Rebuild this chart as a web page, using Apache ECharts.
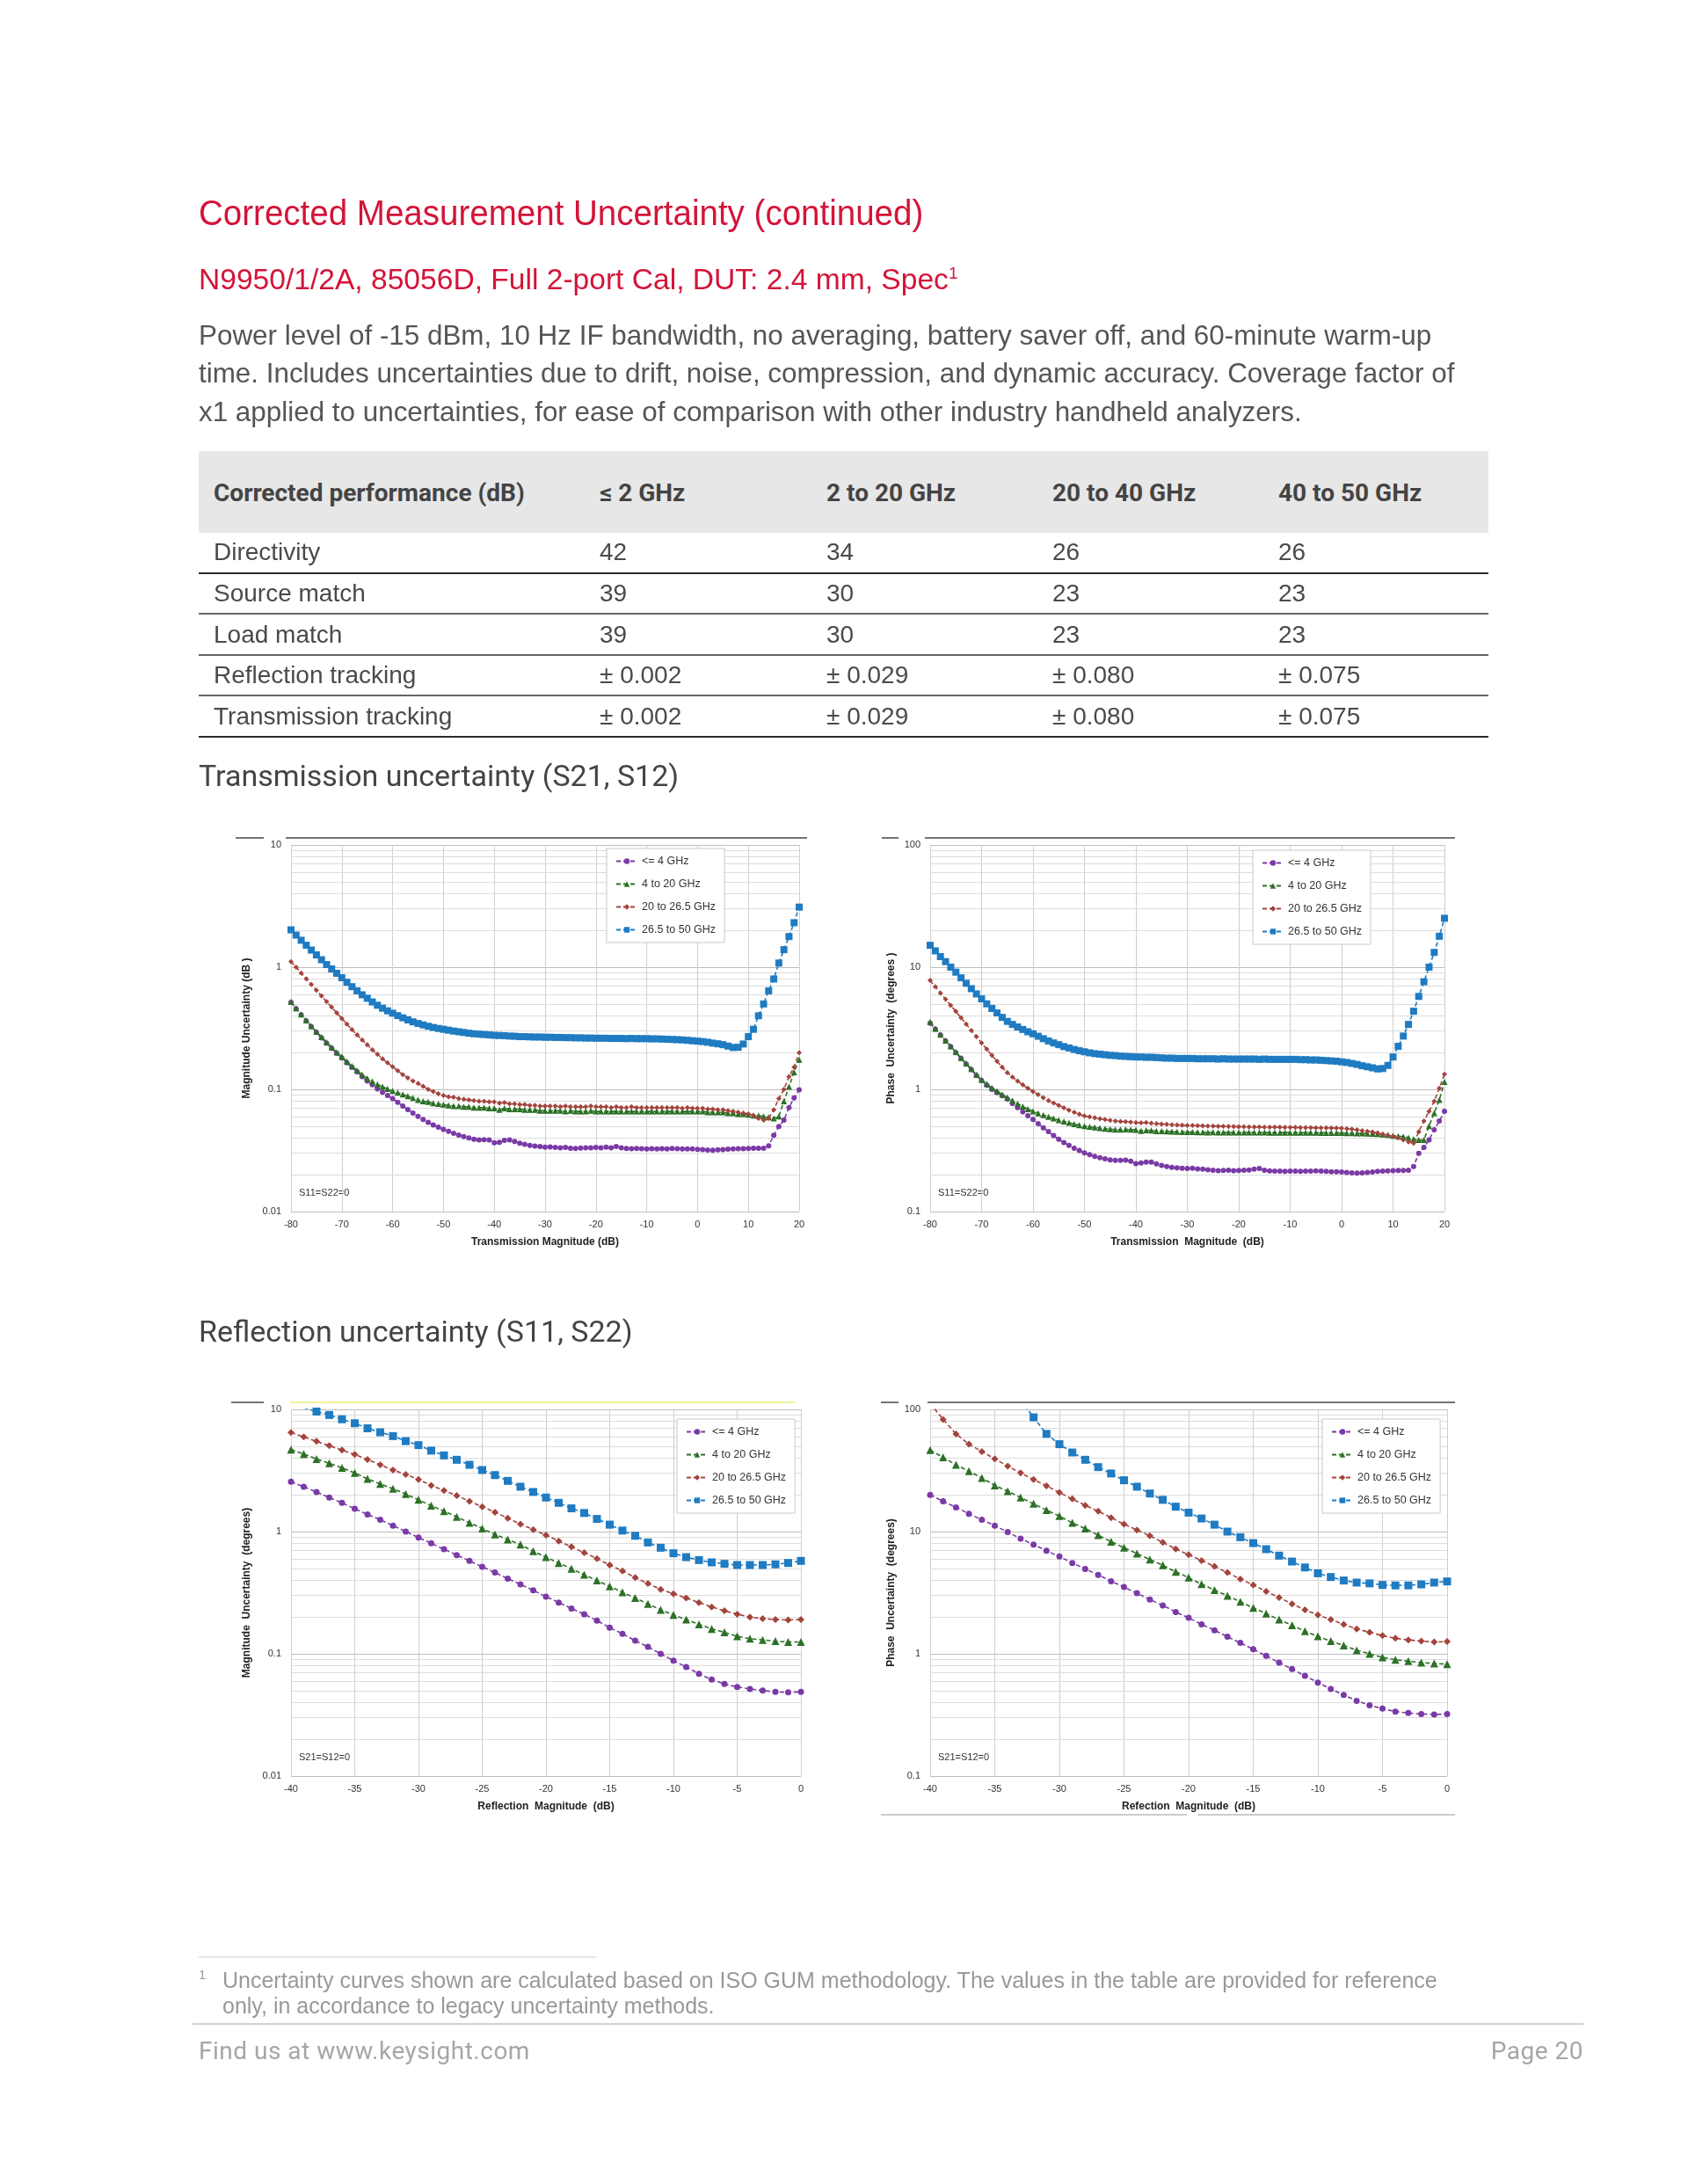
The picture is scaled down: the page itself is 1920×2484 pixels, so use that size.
<!DOCTYPE html>
<html>
<head>
<meta charset="utf-8">
<script src="https://cdn.jsdelivr.net/npm/echarts@6/dist/echarts.min.js"></script>
<style>
html,body{margin:0;padding:0;background:#fff;}
body{width:1920px;height:2484px;position:relative;overflow:hidden;}
#chart{position:absolute;left:0;top:0;width:1920px;height:2484px;z-index:1;}
.t{position:absolute;white-space:nowrap;z-index:2;}
.title{font-family:'Liberation Sans',Arial,sans-serif;color:#d41438;}
.body{font-family:'Liberation Sans',Arial,sans-serif;color:#555;}
.th{font-family:Roboto,'Liberation Sans',sans-serif;font-weight:bold;font-size:28px;line-height:28px;color:#444;}
.td{font-family:'Liberation Sans',Arial,sans-serif;font-size:28px;line-height:28px;color:#4a4a4a;}
.rule{position:absolute;z-index:2;}
</style>
</head>
<body>
<div id="chart"></div>

<div class="t title" style="left:226px;top:222px;font-size:40px;line-height:40px;transform:scaleX(0.963);transform-origin:0 0;">Corrected Measurement Uncertainty (continued)</div>
<div class="t title" style="left:226px;top:301px;font-size:33.6px;line-height:33.6px;">N9950/1/2A, 85056D, Full 2-port Cal, DUT: 2.4 mm, Spec<span style="font-size:19px;position:relative;top:-12px;">1</span></div>
<div class="t body" style="left:226px;top:360px;font-size:31.4px;line-height:43.3px;">Power level of -15 dBm, 10 Hz IF bandwidth, no averaging, battery saver off, and 60-minute warm-up<br>time. Includes uncertainties due to drift, noise, compression, and dynamic accuracy. Coverage factor of<br>x1 applied to uncertainties, for ease of comparison with other industry handheld analyzers.</div>

<div id="table"></div>

<div class="t" style="left:226px;top:865px;font-family:Roboto,'Liberation Sans',sans-serif;font-size:34px;line-height:34px;color:#444;">Transmission uncertainty (S21, S12)</div>
<div class="t" style="left:226px;top:1497px;font-family:Roboto,'Liberation Sans',sans-serif;font-size:34px;line-height:34px;color:#444;">Reflection uncertainty (S11, S22)</div>

<div class="rule" style="left:226px;top:2225px;width:452px;height:2px;background:#e6e6e6;"></div>
<div class="t body" style="left:226px;top:2238px;font-size:15px;line-height:15px;color:#999;">1</div>
<div class="t body" style="left:253px;top:2238px;font-size:25px;line-height:29px;color:#999;">Uncertainty curves shown are calculated based on ISO GUM methodology. The values in the table are provided for reference<br>only, in accordance to legacy uncertainty methods.</div>
<div class="rule" style="left:219px;top:2301px;width:1582px;height:2px;background:#d0d0d0;"></div>
<div class="t" style="left:226px;top:2319px;font-family:Roboto,'Liberation Sans',sans-serif;font-size:28px;line-height:28px;color:#a6a6a6;letter-spacing:0.5px;">Find us at www.keysight.com</div>
<div class="t" style="right:119px;top:2319px;font-family:Roboto,'Liberation Sans',sans-serif;font-size:28px;line-height:28px;color:#a6a6a6;letter-spacing:0.5px;">Page 20</div>

<script>
// ---------------- Table data ----------------
const TABLE_HEAD = ['Corrected performance (dB)', '\u2264 2 GHz', '2 to 20 GHz', '20 to 40 GHz', '40 to 50 GHz'];
const TABLE_ROWS = [
  ['Directivity', '42', '34', '26', '26'],
  ['Source match', '39', '30', '23', '23'],
  ['Load match', '39', '30', '23', '23'],
  ['Reflection tracking', '\u00b1 0.002', '\u00b1 0.029', '\u00b1 0.080', '\u00b1 0.075'],
  ['Transmission tracking', '\u00b1 0.002', '\u00b1 0.029', '\u00b1 0.080', '\u00b1 0.075']
];

// ---------------- Chart data ----------------
const SERIES_NAMES = ['<= 4 GHz', '4 to 20 GHz', '20 to 26.5 GHz', '26.5 to 50 GHz'];

const TX_X = [-80,-79,-78,-77,-76,-75,-74,-73,-72,-71,-70,-69,-68,-67,-66,-65,-64,-63,-62,-61,
  -60,-59,-58,-57,-56,-55,-54,-53,-52,-51,-50,-49,-48,-47,-46,-45,-44,-43,-42,-41,
  -40,-39,-38,-37,-36,-35,-34,-33,-32,-31,-30,-29,-28,-27,-26,-25,-24,-23,-22,-21,
  -20,-19,-18,-17,-16,-15,-14,-13,-12,-11,-10,-9,-8,-7,-6,-5,-4,-3,-2,-1,
  0,1,2,3,4,5,6,7,8,9,10,11,12,13,14,15,16,17,18,19,20];

const RF_X = [-40,-39,-38,-37,-36,-35,-34,-33,-32,-31,-30,-29,-28,-27,-26,-25,-24,-23,-22,-21,
  -20,-19,-18,-17,-16,-15,-14,-13,-12,-11,-10,-9,-8,-7,-6,-5,-4,-3,-2,-1,0];

// Transmission, magnitude uncertainty (dB)
const TX_MAG_P = [0.515,0.457,0.407,0.363,0.326,0.292,0.264,0.239,0.217,0.197,
  0.181,0.165,0.151,0.139,0.127,0.117,0.109,0.101,0.0948,0.0891,
  0.084,0.0783,0.0731,0.0684,0.064,0.060,0.0566,0.0537,0.0512,0.049,
  0.047,0.0453,0.0437,0.0423,0.041,0.040,0.039,0.0385,0.0388,0.0385,
  0.0365,0.0368,0.0382,0.0385,0.0375,0.0362,0.0355,0.0348,0.0343,0.034,
  0.0337,0.0338,0.0335,0.0333,0.0335,0.033,0.0328,0.0331,0.0333,0.0332,
  0.0335,0.0333,0.0336,0.0332,0.034,0.0333,0.0328,0.0327,0.0328,0.0327,
  0.0326,0.0327,0.0326,0.0327,0.0326,0.0328,0.0327,0.0326,0.0325,0.0325,
  0.0323,0.0321,0.0319,0.0318,0.032,0.0322,0.0324,0.0326,0.0327,0.0327,
  0.0328,0.0329,0.0329,0.033,0.0345,0.042,0.0497,0.056,0.071,0.085,
  0.099];
const TX_MAG_G = [0.52,0.461,0.411,0.367,0.330,0.296,0.268,0.243,0.221,0.201,
  0.185,0.169,0.155,0.143,0.132,0.123,0.116,0.110,0.105,0.101,
  0.097,0.094,0.091,0.088,0.085,0.082,0.080,0.079,0.077,0.076,
  0.075,0.074,0.073,0.073,0.072,0.072,0.071,0.071,0.071,0.070,
  0.070,0.068,0.070,0.069,0.069,0.069,0.068,0.068,0.068,0.067,
  0.067,0.067,0.067,0.067,0.066,0.067,0.066,0.066,0.066,0.067,
  0.066,0.066,0.066,0.066,0.066,0.066,0.066,0.066,0.066,0.066,
  0.066,0.066,0.066,0.066,0.066,0.066,0.066,0.066,0.066,0.066,
  0.066,0.066,0.065,0.065,0.065,0.065,0.064,0.064,0.063,0.063,
  0.062,0.061,0.061,0.060,0.059,0.058,0.060,0.080,0.105,0.138,
  0.175];
const TX_MAG_R = [1.11,0.998,0.895,0.804,0.721,0.647,0.582,0.522,0.470,0.423,
  0.380,0.342,0.308,0.279,0.254,0.232,0.211,0.194,0.178,0.165,
  0.153,0.142,0.132,0.124,0.117,0.112,0.106,0.100,0.096,0.092,
  0.089,0.087,0.086,0.084,0.083,0.082,0.081,0.080,0.080,0.079,
  0.079,0.077,0.078,0.076,0.076,0.075,0.075,0.074,0.074,0.073,
  0.073,0.073,0.073,0.072,0.073,0.072,0.072,0.072,0.072,0.073,
  0.072,0.072,0.072,0.071,0.072,0.071,0.071,0.072,0.071,0.071,
  0.071,0.071,0.071,0.071,0.071,0.071,0.071,0.070,0.071,0.070,
  0.070,0.070,0.069,0.069,0.068,0.068,0.067,0.066,0.065,0.064,
  0.063,0.061,0.058,0.056,0.058,0.068,0.084,0.100,0.127,0.152,
  0.20];
const TX_MAG_B = [2.02,1.83,1.66,1.51,1.38,1.26,1.15,1.05,0.968,0.891,
  0.82,0.752,0.692,0.640,0.594,0.556,0.519,0.488,0.461,0.439,
  0.42,0.401,0.385,0.370,0.357,0.346,0.337,0.328,0.321,0.315,
  0.31,0.305,0.300,0.296,0.292,0.288,0.285,0.283,0.281,0.279,
  0.277,0.276,0.275,0.273,0.272,0.270,0.270,0.269,0.268,0.268,
  0.267,0.267,0.266,0.266,0.265,0.265,0.264,0.264,0.263,0.263,
  0.262,0.262,0.262,0.261,0.261,0.261,0.260,0.261,0.260,0.260,
  0.260,0.259,0.259,0.258,0.257,0.256,0.255,0.254,0.252,0.250,
  0.248,0.246,0.243,0.239,0.236,0.232,0.226,0.220,0.221,0.235,
  0.27,0.31,0.40,0.50,0.64,0.80,1.08,1.39,1.78,2.31,
  3.10];

// Transmission, phase uncertainty (degrees)
const TX_PH_P = [3.48,3.11,2.78,2.49,2.23,2.00,1.79,1.61,1.45,1.30,
  1.18,1.08,1.00,0.94,0.885,0.834,0.767,0.708,0.655,0.608,
  0.566,0.524,0.485,0.451,0.419,0.390,0.367,0.348,0.330,0.316,
  0.302,0.292,0.283,0.276,0.270,0.265,0.263,0.262,0.264,0.258,
  0.247,0.250,0.254,0.254,0.246,0.239,0.234,0.230,0.228,0.226,
  0.225,0.226,0.223,0.222,0.220,0.218,0.216,0.217,0.218,0.216,
  0.217,0.218,0.219,0.222,0.225,0.218,0.215,0.214,0.214,0.213,
  0.214,0.214,0.213,0.214,0.214,0.215,0.214,0.213,0.212,0.212,
  0.211,0.209,0.207,0.206,0.207,0.209,0.211,0.213,0.214,0.215,
  0.216,0.217,0.217,0.218,0.234,0.30,0.335,0.385,0.467,0.55,
  0.66];
const TX_PH_G = [3.56,3.13,2.80,2.51,2.25,2.02,1.81,1.63,1.47,1.32,
  1.20,1.11,1.03,0.966,0.908,0.859,0.809,0.764,0.724,0.690,
  0.661,0.638,0.617,0.597,0.578,0.560,0.546,0.532,0.520,0.510,
  0.500,0.494,0.488,0.482,0.477,0.472,0.469,0.468,0.470,0.468,
  0.466,0.458,0.463,0.461,0.456,0.455,0.453,0.451,0.450,0.448,
  0.447,0.447,0.446,0.446,0.445,0.446,0.445,0.445,0.444,0.445,
  0.444,0.444,0.444,0.445,0.444,0.444,0.443,0.443,0.443,0.443,
  0.443,0.443,0.442,0.442,0.442,0.442,0.441,0.441,0.441,0.440,
  0.440,0.439,0.438,0.437,0.436,0.435,0.433,0.431,0.428,0.424,
  0.418,0.414,0.410,0.402,0.392,0.385,0.385,0.50,0.64,0.82,
  1.15];
const TX_PH_R = [7.8,6.92,6.14,5.46,4.86,4.35,3.85,3.42,3.03,2.70,
  2.40,2.13,1.90,1.70,1.52,1.37,1.26,1.17,1.09,1.02,
  0.96,0.904,0.855,0.811,0.773,0.740,0.705,0.675,0.649,0.625,
  0.605,0.595,0.585,0.575,0.566,0.557,0.551,0.546,0.543,0.539,
  0.536,0.532,0.536,0.528,0.524,0.520,0.517,0.514,0.511,0.509,
  0.507,0.506,0.504,0.503,0.501,0.500,0.499,0.498,0.497,0.496,
  0.494,0.494,0.493,0.493,0.492,0.491,0.491,0.490,0.490,0.489,
  0.488,0.488,0.487,0.487,0.486,0.485,0.485,0.484,0.483,0.482,
  0.480,0.477,0.472,0.466,0.460,0.454,0.447,0.440,0.430,0.421,
  0.413,0.400,0.385,0.372,0.362,0.45,0.55,0.66,0.80,1.02,
  1.33];
const TX_PH_B = [15.1,13.6,12.2,11.1,10.0,9.1,8.18,7.38,6.67,6.04,
  5.50,5.01,4.59,4.22,3.88,3.60,3.40,3.24,3.09,2.96,
  2.85,2.72,2.60,2.49,2.40,2.32,2.24,2.18,2.12,2.07,
  2.03,1.99,1.96,1.94,1.92,1.90,1.89,1.87,1.86,1.85,
  1.84,1.84,1.83,1.83,1.82,1.81,1.80,1.80,1.79,1.79,
  1.79,1.79,1.78,1.78,1.78,1.78,1.77,1.78,1.77,1.77,
  1.77,1.77,1.77,1.77,1.76,1.77,1.76,1.76,1.76,1.76,
  1.76,1.76,1.75,1.75,1.74,1.74,1.73,1.72,1.71,1.70,
  1.68,1.66,1.63,1.60,1.56,1.53,1.50,1.47,1.48,1.57,
  1.84,2.25,2.73,3.4,4.36,5.76,7.6,10.0,13.2,17.9,
  25.1];

// Reflection, magnitude uncertainty
const RF_MAG_P = [2.56,2.33,2.11,1.90,1.72,1.54,1.38,1.25,1.12,1.00,
  0.895,0.802,0.718,0.643,0.576,0.516,0.462,0.413,0.370,0.331,
  0.294,0.263,0.235,0.211,0.187,0.164,0.146,0.128,0.114,0.100,
  0.088,0.078,0.0687,0.0615,0.0566,0.0536,0.0516,0.0501,0.0488,0.0484,
  0.0488];
const RF_MAG_G = [4.69,4.32,3.93,3.62,3.33,3.02,2.70,2.46,2.24,2.03,
  1.82,1.63,1.47,1.32,1.18,1.06,0.946,0.861,0.784,0.691,
  0.618,0.554,0.496,0.444,0.398,0.356,0.319,0.286,0.256,0.229,
  0.208,0.191,0.174,0.160,0.150,0.139,0.133,0.130,0.127,0.125,
  0.125];
const RF_MAG_R = [6.47,5.95,5.48,5.04,4.64,4.27,3.89,3.52,3.19,2.94,
  2.67,2.39,2.17,1.97,1.77,1.60,1.44,1.29,1.15,1.04,
  0.936,0.838,0.750,0.672,0.602,0.533,0.477,0.420,0.376,0.337,
  0.310,0.286,0.263,0.242,0.225,0.211,0.200,0.194,0.191,0.189,
  0.191];
const RF_MAG_B = [null,10.3,9.6,9.0,8.3,7.7,7.0,6.5,6.05,5.5,
  5.1,4.6,4.2,3.87,3.52,3.19,2.9,2.6,2.33,2.11,
  1.9,1.72,1.55,1.42,1.27,1.14,1.02,0.925,0.815,0.738,
  0.665,0.618,0.585,0.56,0.545,0.533,0.533,0.533,0.54,0.554,
  0.576];

// Reflection, phase uncertainty (degrees)
const RF_PH_P = [20.0,17.7,15.8,14.0,12.5,11.2,9.9,8.76,7.84,6.98,
  6.25,5.54,4.95,4.43,3.93,3.52,3.13,2.78,2.49,2.20,
  1.97,1.74,1.56,1.38,1.23,1.09,0.962,0.847,0.750,0.661,
  0.582,0.515,0.461,0.413,0.380,0.356,0.337,0.328,0.322,0.319,
  0.322];
const RF_PH_G = [46.4,40.5,35.2,31.2,27.5,23.9,21.4,19.0,16.9,15.0,
  13.4,11.8,10.6,9.36,8.28,7.38,6.61,5.92,5.30,4.69,
  4.20,3.72,3.33,2.98,2.67,2.38,2.13,1.91,1.71,1.53,
  1.39,1.27,1.17,1.07,1.00,0.935,0.895,0.871,0.847,0.835,
  0.824];
const RF_PH_R = [112,82.8,63,51.9,45.2,39.4,34.3,30.2,26.7,23.7,
  20.9,18.5,16.4,14.7,13.0,11.5,10.3,9.25,8.15,7.22,
  6.47,5.8,5.19,4.62,4.09,3.66,3.24,2.89,2.56,2.29,
  2.08,1.91,1.74,1.6,1.5,1.41,1.34,1.3,1.27,1.25,
  1.26];
const RF_PH_B = [null,null,null,null,null,null,null,120,86.1,63,
  51.9,44.4,38.7,33.7,29.9,26.3,23.3,20.5,18.2,16.0,
  14.3,12.8,11.4,10.0,9.0,8.06,7.18,6.36,5.69,5.09,
  4.56,4.25,3.98,3.83,3.77,3.66,3.63,3.63,3.70,3.83,
  3.91];

// Axis tick/label texts
const TX_X_TICKS = [-80,-70,-60,-50,-40,-30,-20,-10,0,10,20];
const RF_X_TICKS = [-40,-35,-30,-25,-20,-15,-10,-5,0];

// ---------------- Build table ----------------
(function(){
  const t = document.getElementById('table');
  const colX = [243, 682, 940, 1197, 1454];
  let h = '<div class="rule" style="left:226px;top:513px;width:1467px;height:93px;background:#e7e7e7;"></div>';
  TABLE_HEAD.forEach((s,i)=>{ h += `<div class="t th" style="left:${colX[i]}px;top:547px;">${s}</div>`; });
  const lineY = [651, 697, 744, 790, 837];
  TABLE_ROWS.forEach((row,r)=>{
    const base = 638 + r*46.6;
    row.forEach((s,i)=>{ h += `<div class="t td" style="left:${colX[i]}px;top:${base-23.7}px;">${s}</div>`; });
    const c = (r===0 || r===TABLE_ROWS.length-1) ? '#2a2a2a' : '#666';
    h += `<div class="rule" style="left:226px;top:${lineY[r]}px;width:1467px;height:2px;background:${c};"></div>`;
  });
  t.innerHTML = h;
})();

// ---------------- Build charts ----------------
const COLORS = ['#7a3aa6', '#2d7027', '#a3443d', '#1f7bc2'];
const SYMBOLS = ['circle', 'triangle', 'diamond', 'rect'];
const FONT = "'Liberation Sans Narrow','Liberation Sans',Arial,sans-serif";

const PANELS = [
  { grid:{left:331, top:961, width:578, height:417}, xs:TX_X, ticks:TX_X_TICKS, xmin:-80, xmax:20, xint:10,
    ymin:0.01, ymax:10, ys:[TX_MAG_P,TX_MAG_G,TX_MAG_R,TX_MAG_B],
    yName:'Magnitude Uncertainty (dB )', xName:'Transmission Magnitude (dB)', note:'S11=S22=0',
    sym:[6,7,6,8], legend:{left:690, top:965}, yGap:44 },
  { grid:{left:1058, top:961, width:585, height:417}, xs:TX_X, ticks:TX_X_TICKS, xmin:-80, xmax:20, xint:10,
    ymin:0.1, ymax:100, ys:[TX_PH_P,TX_PH_G,TX_PH_R,TX_PH_B],
    yName:'Phase  Uncertainty  (degrees )', xName:'Transmission  Magnitude  (dB)', note:'S11=S22=0',
    sym:[6,7,6,8], legend:{left:1425, top:967}, yGap:38 },
  { grid:{left:331, top:1603, width:580, height:417}, xs:RF_X, ticks:RF_X_TICKS, xmin:-40, xmax:0, xint:5,
    ymin:0.01, ymax:10, ys:[RF_MAG_P,RF_MAG_G,RF_MAG_R,RF_MAG_B],
    yName:'Magnitude  Uncertainty  (degrees)', xName:'Reflection  Magnitude  (dB)', note:'S21=S12=0',
    sym:[7,9,8,9], legend:{left:770, top:1614}, yGap:44 },
  { grid:{left:1058, top:1603, width:588, height:417}, xs:RF_X, ticks:RF_X_TICKS, xmin:-40, xmax:0, xint:5,
    ymin:0.1, ymax:100, ys:[RF_PH_P,RF_PH_G,RF_PH_R,RF_PH_B],
    yName:'Phase  Uncertainty  (degrees)', xName:'Refection  Magnitude  (dB)', note:'S21=S12=0',
    sym:[7,9,8,9], legend:{left:1504, top:1614}, yGap:38 }
];

function minorLines(lo, hi){
  const out = [];
  for (let d = lo; d < hi*0.999; d *= 10) {
    for (let k = 2; k <= 9; k++) out.push({ yAxis: +(d*k).toPrecision(3) });
  }
  return out;
}

const option = {
  animation: false,
  backgroundColor: 'transparent',
  grid: [], xAxis: [], yAxis: [], series: [], legend: [], graphic: []
};

PANELS.forEach((p, gi) => {
  option.grid.push(Object.assign({ containLabel:false }, p.grid));
  option.xAxis.push({
    type:'value', gridIndex:gi, min:p.xmin, max:p.xmax, interval:p.xint,
    axisLine:{show:false}, axisTick:{show:false},
    splitLine:{show:true, lineStyle:{color:'#cfcfcf', width:1}},
    axisLabel:{fontSize:11, color:'#333', margin:9, fontFamily:FONT,
      formatter: v => (p.ticks.indexOf(v) >= 0 ? String(v) : '')},
    name:p.xName, nameLocation:'middle', nameGap:29,
    nameTextStyle:{fontSize:12, fontWeight:'bold', color:'#222', fontFamily:FONT}
  });
  option.yAxis.push({
    type:'log', logBase:10, gridIndex:gi, min:p.ymin, max:p.ymax,
    axisLine:{show:false}, axisTick:{show:false},
    splitLine:{show:true, lineStyle:{color:'#bdbdbd', width:1}},
    axisLabel:{fontSize:11, color:'#333', margin:11, fontFamily:FONT,
      formatter: v => String(+(+v).toPrecision(3))},
    name:p.yName, nameLocation:'middle', nameGap:p.yGap,
    nameTextStyle:{fontSize:12, fontWeight:'bold', color:'#222', fontFamily:FONT}
  });
  // minor log grid lines
  option.series.push({
    type:'line', xAxisIndex:gi, yAxisIndex:gi, data:[], silent:true, z:0,
    markLine:{ silent:true, symbol:'none', z:0, animation:false,
      label:{show:false}, lineStyle:{color:'#dcdcdc', type:'solid', width:1},
      emphasis:{disabled:true}, data:minorLines(p.ymin, p.ymax) }
  });
  p.ys.forEach((vals, si) => {
    const data = [];
    p.xs.forEach((x, i) => { if (vals[i] != null) data.push([x, vals[i]]); });
    option.series.push({
      type:'line', name:SERIES_NAMES[si], xAxisIndex:gi, yAxisIndex:gi, data:data,
      symbol:SYMBOLS[si], symbolSize:p.sym[si], showAllSymbol:true, clip:true, z:3+si,
      itemStyle:{color:COLORS[si]},
      lineStyle:{color:COLORS[si], width:1.6, type:[5,3]},
      emphasis:{disabled:true}
    });
  });
  option.legend.push({
    left:p.legend.left, top:p.legend.top, orient:'vertical', data:SERIES_NAMES,
    backgroundColor:'#fff', borderColor:'#c8c8c8', borderWidth:1, borderRadius:0,
    padding:[8,10,8,10], itemGap:13, itemWidth:24, itemHeight:8,
    textStyle:{fontSize:12.5, color:'#333', fontFamily:FONT, lineHeight:12}, selectedMode:false
  });
  option.graphic.push({
    type:'text', left:p.grid.left + 9, top:p.grid.top + p.grid.height - 27, silent:true,
    style:{text:p.note, fontSize:11, fill:'#333', fontFamily:FONT}
  });
});

// chart image frame remnants
const FRAME = [
  [268,953,300,953,'#444'], [325,953,918,953,'#444'],
  [1003,953,1022,953,'#444'], [1052,953,1655,953,'#444'],
  [263,1595,300,1595,'#444'], [330,1595,905,1595,'#eef07a'],
  [1002,1595,1022,1595,'#444'], [1055,1595,1655,1595,'#444'],
  [1002,2064,1350,2064,'#bbb'], [1362,2064,1655,2064,'#bbb']
];
FRAME.forEach(f => option.graphic.push({
  type:'line', silent:true, shape:{x1:f[0], y1:f[1], x2:f[2], y2:f[3]},
  style:{stroke:f[4], lineWidth:1.5}
}));

const chart = echarts.init(document.getElementById('chart'), null, {renderer:'canvas', devicePixelRatio:1});
chart.setOption(option);
</script>
</body>
</html>
